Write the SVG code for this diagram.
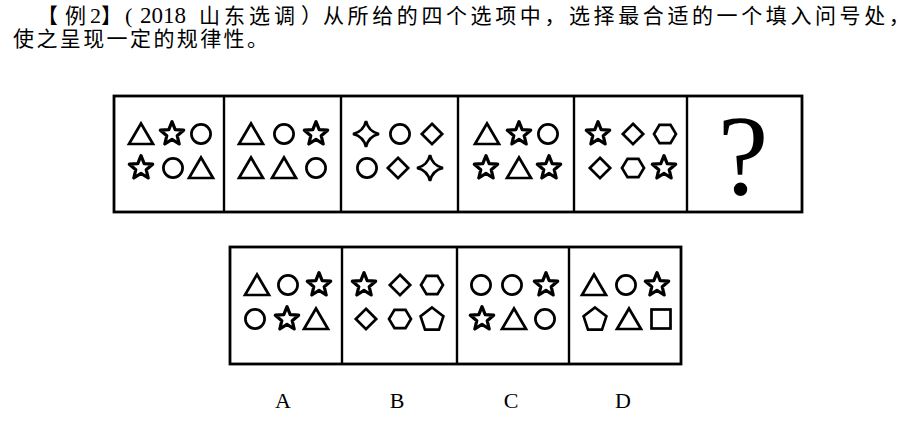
<svg xmlns="http://www.w3.org/2000/svg" width="923" height="430" viewBox="0 0 923 430">
<style>
.s{fill:none;stroke:#000;stroke-width:2.7;stroke-linejoin:miter}
.st{fill:none;stroke:#000;stroke-width:3.2;stroke-linejoin:round}
.box{fill:none;stroke:#000;stroke-width:2.8}
.div{stroke:#000;stroke-width:2.4}
.cjk{font-family:"Noto Sans CJK SC","Liberation Serif",serif;font-size:21px;fill:#000}
.lat{font-family:"Liberation Serif","Noto Sans CJK SC",serif;fill:#000}
</style>
<defs>
<polygon id="tri" class="s" points="0,-10.5 12,10 -12,10"/>
<circle id="cir" class="s" r="9.6"/>
<polygon id="star" class="st" points="0,-12.3 3.2,-4.4 11.7,-3.8 5.2,1.7 7.2,10 0,5.4 -7.2,10 -5.2,1.7 -11.7,-3.8 -3.2,-4.4"/>
<polygon id="dia" class="s" points="0,-10.2 10.2,0 0,10.2 -10.2,0"/>
<polygon id="hex" class="s" points="-11,0 -5.5,-9.2 5.5,-9.2 11,0 5.5,9.2 -5.5,9.2"/>
<polygon id="pent" class="s" points="0,-11.5 11.4,-2.7 7,10.7 -7,10.7 -11.4,-2.7"/>
<rect id="sq" class="s" x="-9.5" y="-9.5" width="19" height="19"/>
<path id="spk" class="s" d="M0,-13 Q2.4,-2.4 13,0 Q2.4,2.4 0,13 Q-2.4,2.4 -13,0 Q-2.4,-2.4 0,-13Z" stroke-width="3"/>
</defs>
<rect width="923" height="430" fill="#fff"/>

<g id="title">
<text class="cjk" y="23"><tspan x="37">【</tspan><tspan x="65">例</tspan><tspan class="lat" x="90" font-size="22">2</tspan><tspan x="101">】</tspan><tspan class="lat" x="125" font-size="22">(</tspan><tspan class="lat" x="140" font-size="23">2018</tspan><tspan x="199" letter-spacing="4">山东选调</tspan><tspan x="301">）</tspan><tspan x="323" letter-spacing="3.6">从所给的四个选项中，选择最合适的一个填入问号处，</tspan></text>
<text class="cjk" x="13" y="46" letter-spacing="2.4">使之呈现一定的规律性。</text>
</g>

<g id="question-row">
<rect class="box" x="114" y="96" width="688" height="116"/>
<line class="div" x1="224" y1="96" x2="224" y2="212"/>
<line class="div" x1="341" y1="96" x2="341" y2="212"/>
<line class="div" x1="458" y1="96" x2="458" y2="212"/>
<line class="div" x1="574" y1="96" x2="574" y2="212"/>
<line class="div" x1="687" y1="96" x2="687" y2="212"/>
</g>
<g id="q1">
<use href="#tri" x="141" y="134"/><use href="#star" x="172" y="134"/><use href="#cir" x="201" y="134"/>
<use href="#star" x="141" y="168"/><use href="#cir" x="173" y="168"/><use href="#tri" x="201" y="168"/>
</g>
<g id="q2">
<use href="#tri" x="251" y="134"/><use href="#cir" x="284" y="134"/><use href="#star" x="316" y="134"/>
<use href="#tri" x="251" y="168"/><use href="#tri" x="284" y="168"/><use href="#cir" x="316" y="168"/>
</g>
<g id="q3">
<use href="#spk" x="366" y="134"/><use href="#cir" x="400" y="134"/><use href="#dia" x="432" y="134"/>
<use href="#cir" x="367" y="168"/><use href="#dia" x="398" y="168"/><use href="#spk" x="430" y="168"/>
</g>
<g id="q4">
<use href="#tri" x="487" y="134"/><use href="#star" x="519" y="134"/><use href="#cir" x="548" y="134"/>
<use href="#star" x="486" y="168"/><use href="#tri" x="519" y="168"/><use href="#star" x="549" y="168"/>
</g>
<g id="q5">
<use href="#star" x="598" y="134"/><use href="#dia" x="633" y="134"/><use href="#hex" x="665" y="134"/>
<use href="#dia" x="600" y="168"/><use href="#hex" x="633" y="168"/><use href="#star" x="664" y="168"/>
</g>
<g id="q6">
<text class="lat" x="743" y="194" font-size="114" text-anchor="middle">?</text>
</g>

<g id="options-row">
<rect class="box" x="230" y="247" width="451" height="117"/>
<line class="div" x1="342" y1="247" x2="342" y2="364"/>
<line class="div" x1="457" y1="247" x2="457" y2="364"/>
<line class="div" x1="569" y1="247" x2="569" y2="364"/>
</g>
<g id="optA">
<use href="#tri" x="257" y="285"/><use href="#cir" x="288" y="285"/><use href="#star" x="319" y="285"/>
<use href="#cir" x="255" y="319"/><use href="#star" x="287" y="319"/><use href="#tri" x="316" y="319"/>
<text class="lat" x="283" y="408" font-size="22" text-anchor="middle">A</text>
</g>
<g id="optB">
<use href="#star" x="364" y="285"/><use href="#dia" x="400" y="285"/><use href="#hex" x="432" y="285"/>
<use href="#dia" x="366" y="319"/><use href="#hex" x="400" y="319"/><use href="#pent" x="432" y="319"/>
<text class="lat" x="397" y="408" font-size="22" text-anchor="middle">B</text>
</g>
<g id="optC">
<use href="#cir" x="481" y="285"/><use href="#cir" x="512" y="285"/><use href="#star" x="546" y="285"/>
<use href="#star" x="482" y="319"/><use href="#tri" x="514" y="319"/><use href="#cir" x="545" y="319"/>
<text class="lat" x="511" y="408" font-size="22" text-anchor="middle">C</text>
</g>
<g id="optD">
<use href="#tri" x="594" y="285"/><use href="#cir" x="626" y="285"/><use href="#star" x="657" y="285"/>
<use href="#pent" x="595" y="319"/><use href="#tri" x="629" y="319"/><use href="#sq" x="661" y="319"/>
<text class="lat" x="623" y="408" font-size="22" text-anchor="middle">D</text>
</g>
</svg>
